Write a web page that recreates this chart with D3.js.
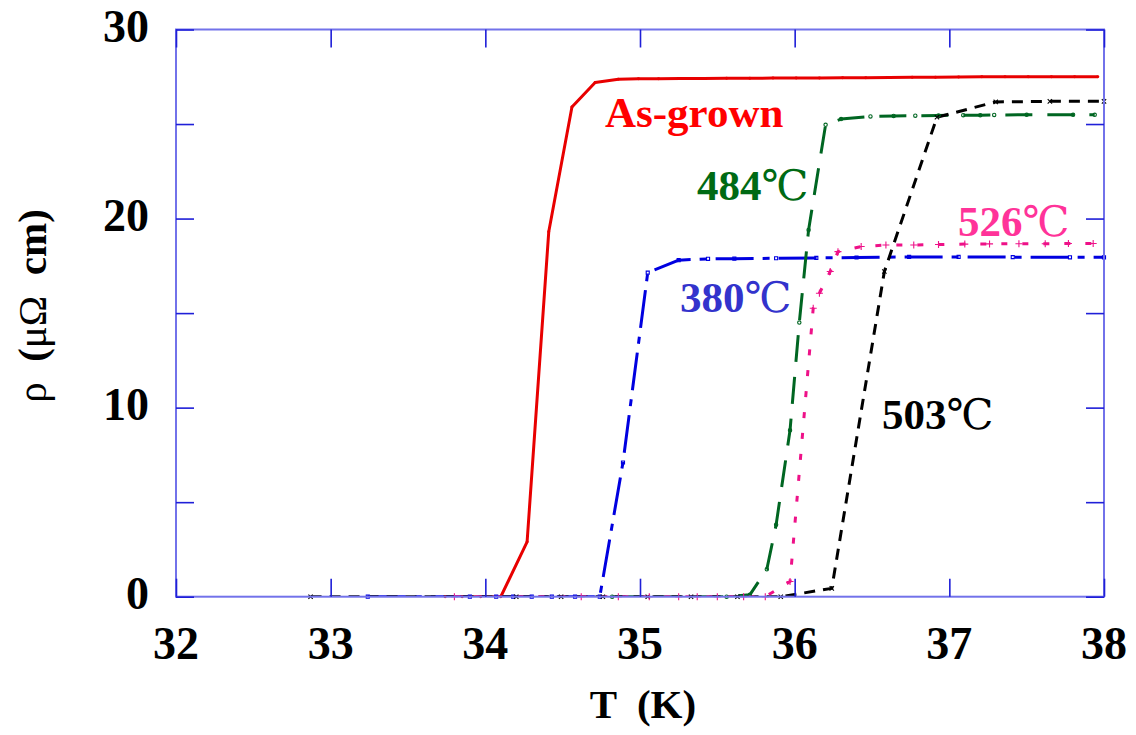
<!DOCTYPE html>
<html>
<head>
<meta charset="utf-8">
<script src="https://cdn.jsdelivr.net/npm/d3@7"></script>
<style>
  body { margin: 0; background: #fff; }
  svg { display: block; }
</style>
</head>
<body>
<svg id="chart" width="1136" height="735"></svg>
<script>
// Resistivity vs. temperature near the superconducting transition
const xTickValues = [32, 33, 34, 35, 36, 37, 38];
const yLabelValues = [0, 10, 20, 30];
const yTickValues = [0, 5, 10, 15, 20, 25, 30];

const asGrownT   = [33.74, 33.85, 33.97, 34.10, 34.27, 34.41, 34.56, 34.71, 34.86, 34.99, 35.12, 35.26, 35.41, 35.56, 35.71, 35.86, 36.01, 36.16, 36.31, 36.46, 36.61, 36.76, 36.91, 37.06, 37.21, 37.36, 37.51, 37.66, 37.81, 37.96];
const asGrownRho = [0, 0, 0, 0, 2.9, 19.3, 25.9, 27.2, 27.37, 27.39, 27.4, 27.41, 27.41, 27.42, 27.42, 27.43, 27.44, 27.44, 27.45, 27.45, 27.46, 27.47, 27.48, 27.49, 27.5, 27.5, 27.5, 27.5, 27.5, 27.5];

const t380T   = [33.24, 33.90, 34.07, 34.18, 34.30, 34.43, 34.58, 34.74, 34.89, 35.05, 35.25, 35.44, 35.61, 35.88, 36.14, 36.40, 36.74, 37.06, 37.41, 37.78, 38.0];
const t380Rho = [0, 0, 0, 0, 0, 0, 0, 0, 7.1, 17.14, 17.8, 17.87, 17.88, 17.9, 17.92, 17.94, 17.97, 17.97, 17.96, 17.95, 17.95];

const t484T   = [34.82, 35.56, 35.71, 35.82, 35.88, 35.97, 36.03, 36.09, 36.20, 36.30, 36.49, 36.64, 36.78, 36.93, 37.09, 37.20, 37.29, 37.50, 37.80, 37.94];
const t484Rho = [0, 0, 0.1, 1.45, 3.8, 8.8, 14.5, 19.4, 24.96, 25.26, 25.4, 25.43, 25.44, 25.45, 25.47, 25.47, 25.48, 25.49, 25.49, 25.49];

const t503T   = [32.87, 34.20, 34.49, 34.76, 35.05, 35.33, 35.63, 35.91, 36.24, 36.58, 36.92, 37.30, 37.65, 38.0];
const t503Rho = [0, 0, 0, 0, 0, 0, 0, 0, 0.44, 17.2, 25.36, 26.17, 26.2, 26.2];

const t526T   = [33.80, 34.62, 34.86, 35.06, 35.25, 35.37, 35.50, 35.67, 35.81, 35.97, 36.12, 36.16, 36.23, 36.28, 36.43, 36.59, 36.77, 36.93, 37.10, 37.26, 37.45, 37.62, 37.77, 37.93];
const t526Rho = [0, 0, 0, 0, 0, 0, 0, 0, 0, 0.8, 15.26, 16.05, 17.2, 18.25, 18.52, 18.6, 18.6, 18.63, 18.65, 18.66, 18.67, 18.67, 18.68, 18.68];

const seriesLabels = ["As-grown", "380", "484", "503", "526"];
const degreeSign = "\u2103";

// Style of each curve and its label
const series = [
  { T: asGrownT, rho: asGrownRho, color: "#e80000", dash: null,         marker: "dot",    size: 7,  label: seriesLabels[0], unit: false, labelColor: "#ff0000", lx: 605, ly: 127 },
  { T: t380T,    rho: t380Rho,    color: "#0000e0", dash: "38,9,7,9",   marker: "square", size: 12, label: seriesLabels[1], unit: true,  labelColor: "#3333cc", lx: 680, ly: 312 },
  { T: t484T,    rho: t484Rho,    color: "#006622", dash: "27,15",      marker: "circle", size: 9,  label: seriesLabels[2], unit: true,  labelColor: "#006a14", lx: 697, ly: 200 },
  { T: t503T,    rho: t503Rho,    color: "#000000", dash: "11,8",       marker: "x",      size: 14, label: seriesLabels[3], unit: true,  labelColor: "#000000", lx: 882, ly: 429 },
  { T: t526T,    rho: t526Rho,    color: "#ee1188", dash: "6,15",       marker: "plus",   size: 18, label: seriesLabels[4], unit: true,  labelColor: "#ff3399", lx: 958, ly: 236 }
];

const svg = d3.select("#chart");
const plot = { left: 176, right: 1104, top: 29.5, bottom: 596.7 };

const x = d3.scaleLinear().domain([32, 38]).range([plot.left, plot.right]);
const y = d3.scaleLinear().domain([0, 30]).range([plot.bottom, plot.top]);

const serif = "'Liberation Serif', 'Times New Roman', serif";

// Curves are clipped at the zero line so the frame hides the flat part
svg.append("defs").append("clipPath").attr("id", "plotClip")
  .append("rect")
  .attr("x", plot.left).attr("y", plot.top - 5)
  .attr("width", plot.right - plot.left)
  .attr("height", plot.bottom - plot.top + 5);

const line = d3.line().x(d => x(d[0])).y(d => y(d[1]));

const curves = svg.append("g").attr("clip-path", "url(#plotClip)");
series.forEach(s => {
  const pts = s.T.map((t, i) => [t, s.rho[i]]);
  curves.append("path")
    .attr("d", line(pts))
    .attr("fill", "none")
    .attr("stroke", s.color)
    .attr("stroke-width", 3)
    .attr("stroke-linejoin", "round")
    .attr("stroke-dasharray", s.dash);
});

// Data point markers
const symbolTypes = {
  dot: d3.symbolCircle,
  square: d3.symbolSquare2,
  circle: d3.symbolCircle,
  x: d3.symbolX,
  plus: d3.symbolPlus
};
const markers = svg.append("g");
series.forEach(s => {
  const pts = s.T.map((t, i) => [t, s.rho[i]]);
  const filled = s.marker === "dot";
  markers.selectAll(null).data(pts).enter().append("path")
    .attr("transform", d => `translate(${x(d[0])},${y(d[1])})`)
    .attr("d", d3.symbol().type(symbolTypes[s.marker]).size(s.size))
    .attr("fill", filled ? s.color : "none")
    .attr("stroke", filled ? "none" : s.color)
    .attr("stroke-width", 1.1);
});

// Frame
svg.append("rect")
  .attr("x", plot.left).attr("y", plot.top)
  .attr("width", plot.right - plot.left).attr("height", plot.bottom - plot.top)
  .attr("fill", "none").attr("stroke", "#7272ea").attr("stroke-width", 2);

// Inward ticks on all four sides
const tickLen = 18;
const axisColor = "#1f1fd8";
const bottomAxis = d3.axisBottom(x).tickValues(xTickValues).tickSize(-tickLen).tickFormat("");
const topAxis = d3.axisTop(x).tickValues(xTickValues).tickSize(-tickLen).tickFormat("");
const leftAxis = d3.axisLeft(y).tickValues(yTickValues).tickSize(-tickLen).tickFormat("");
const rightAxis = d3.axisRight(y).tickValues(yTickValues).tickSize(-tickLen).tickFormat("");

[[bottomAxis, `translate(0,${plot.bottom})`], [topAxis, `translate(0,${plot.top})`],
 [leftAxis, `translate(${plot.left},0)`], [rightAxis, `translate(${plot.right},0)`]].forEach(([ax, tr]) => {
  const g = svg.append("g").attr("transform", tr).call(ax);
  g.select(".domain").remove();
  g.selectAll(".tick line").attr("stroke", axisColor).attr("stroke-width", 1.6);
});

// Tick labels
svg.append("g").selectAll("text").data(xTickValues).enter().append("text")
  .attr("x", d => x(d)).attr("y", 659)
  .attr("text-anchor", "middle")
  .attr("font-family", serif).attr("font-weight", "bold").attr("font-size", 46)
  .attr("fill", "#000")
  .text(d => d);

svg.append("g").selectAll("text").data(yLabelValues).enter().append("text")
  .attr("x", 149).attr("y", d => y(d) + 12)
  .attr("text-anchor", "end")
  .attr("font-family", serif).attr("font-weight", "bold").attr("font-size", 46)
  .attr("fill", "#000")
  .text(d => d);

// Axis titles
const xTitle = svg.append("text")
  .attr("x", 643).attr("y", 718)
  .attr("text-anchor", "middle")
  .attr("font-family", serif).attr("font-weight", "bold").attr("font-size", 41)
  .attr("fill", "#000")
  .style("white-space", "pre");
xTitle.append("tspan").text("T  (K)");

const yTitle = svg.append("text")
  .attr("transform", "translate(46,306) rotate(-90)")
  .attr("text-anchor", "middle")
  .attr("font-family", serif).attr("font-size", 41)
  .attr("fill", "#000")
  .style("white-space", "pre");
yTitle.append("tspan").attr("font-weight", "normal").text("\u03c1");
yTitle.append("tspan").attr("font-weight", "bold").text("  (");
yTitle.append("tspan").attr("font-weight", "normal").text("\u03bc\u03a9");
yTitle.append("tspan").attr("font-weight", "bold").text("  cm)");

// Curve labels
series.forEach(s => {
  const t = svg.append("text")
    .attr("x", s.lx).attr("y", s.ly)
    .attr("font-family", serif).attr("font-size", 43)
    .attr("fill", s.labelColor);
  t.append("tspan").attr("font-weight", "bold").text(s.label);
  if (s.unit) {
    t.append("tspan")
      .attr("font-family", "'DejaVu Serif', 'Liberation Serif', serif")
      .attr("font-weight", "normal").attr("font-size", 42)
      .text(degreeSign);
  }
});
</script>
</body>
</html>
